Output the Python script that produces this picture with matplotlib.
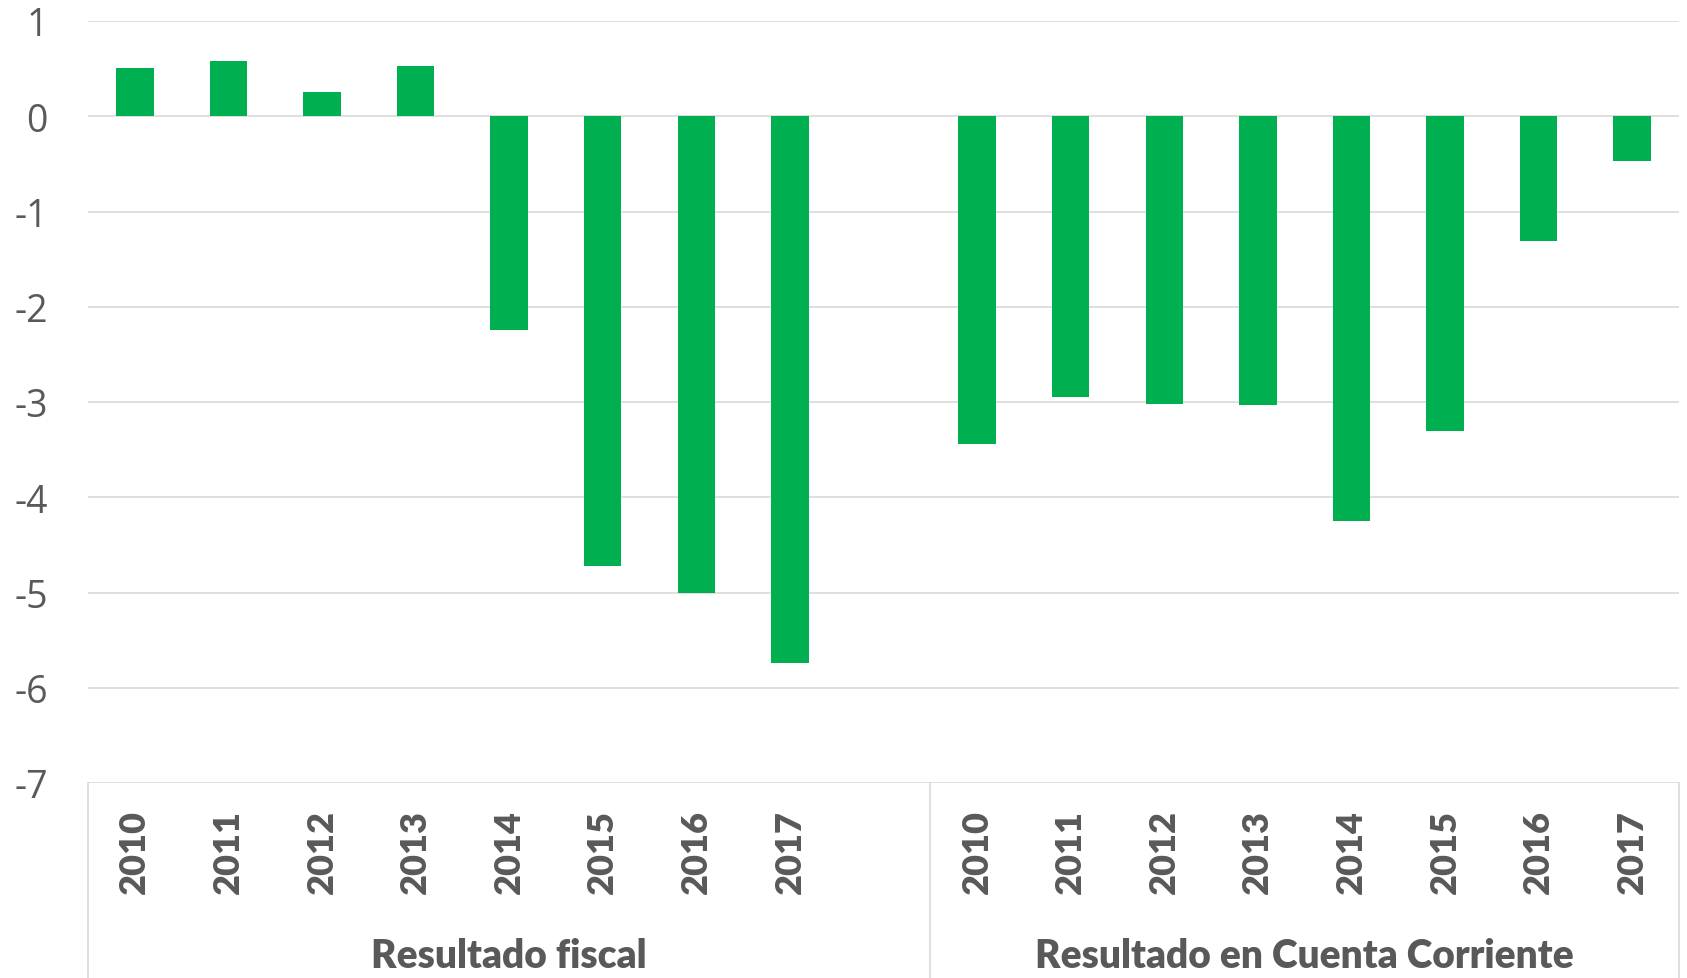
import numpy as np
import matplotlib
matplotlib.use('Agg')
import matplotlib.pyplot as plt
import matplotlib.transforms as mtransforms

years = ['2010', '2011', '2012', '2013', '2014', '2015', '2016', '2017']
groups = ['Resultado fiscal', 'Resultado en Cuenta Corriente']
fiscal = [0.51, 0.58, 0.25, 0.53, -2.24, -4.72, -5.0, -5.74]
cuenta = [-3.44, -2.95, -3.02, -3.03, -4.25, -3.30, -1.31, -0.47]

GREEN = '#00B050'
GRAY = '#595959'
GRID = '#D9D9D9'
W, H = 1687, 979

fig = plt.figure(figsize=(W / 100, H / 100), dpi=100)
ax = fig.add_axes([88 / W, (H - 784) / H, (1679 - 88) / W, (784 - 22) / H])

# left group takes 9 slots (last one empty), right group 8
x_fis = np.arange(8)
x_cc = np.arange(9, 17)
ax.bar(x_fis, fiscal, width=0.4, color=GREEN, zorder=3)
ax.bar(x_cc, cuenta, width=0.4, color=GREEN, zorder=3)

ax.set_xlim(-0.5, 16.5)
ax.set_ylim(-7, 1)
ax.set_yticks(np.arange(-7, 2, 1))
ax.set_yticklabels([str(v) for v in range(-7, 2)], fontsize=27, color=GRAY,
                   family=['Open Sans', 'DejaVu Sans'])
ax.tick_params(axis='y', length=0, pad=29)
ax.grid(axis='y', color=GRID, linewidth=1.2, zorder=0)
for s in ax.spines.values():
    s.set_visible(False)

ax.set_xticks(np.concatenate([x_fis, x_cc]))
ax.set_xticklabels(years + years, rotation=90, fontsize=26, fontweight='heavy',
                   color=GRAY, family=['Lato', 'DejaVu Sans'])
ax.tick_params(axis='x', length=0, pad=19)

# category box lines below the plot
tr = mtransforms.blended_transform_factory(ax.transData, fig.transFigure)
ybot = (H - 784) / H
for xb in [-0.5, 8.5, 16.5]:
    ax.plot([xb, xb], [0, ybot], color=GRID, linewidth=1.2, transform=tr,
            clip_on=False)

for gx, name in zip([4, 12.5], groups):
    ax.text(gx, (H - 957) / H, name, transform=tr, ha='center', va='center',
            fontsize=28, fontweight='heavy', color=GRAY,
            family=['Lato', 'DejaVu Sans'])

fig.savefig('out.png', dpi=100)
